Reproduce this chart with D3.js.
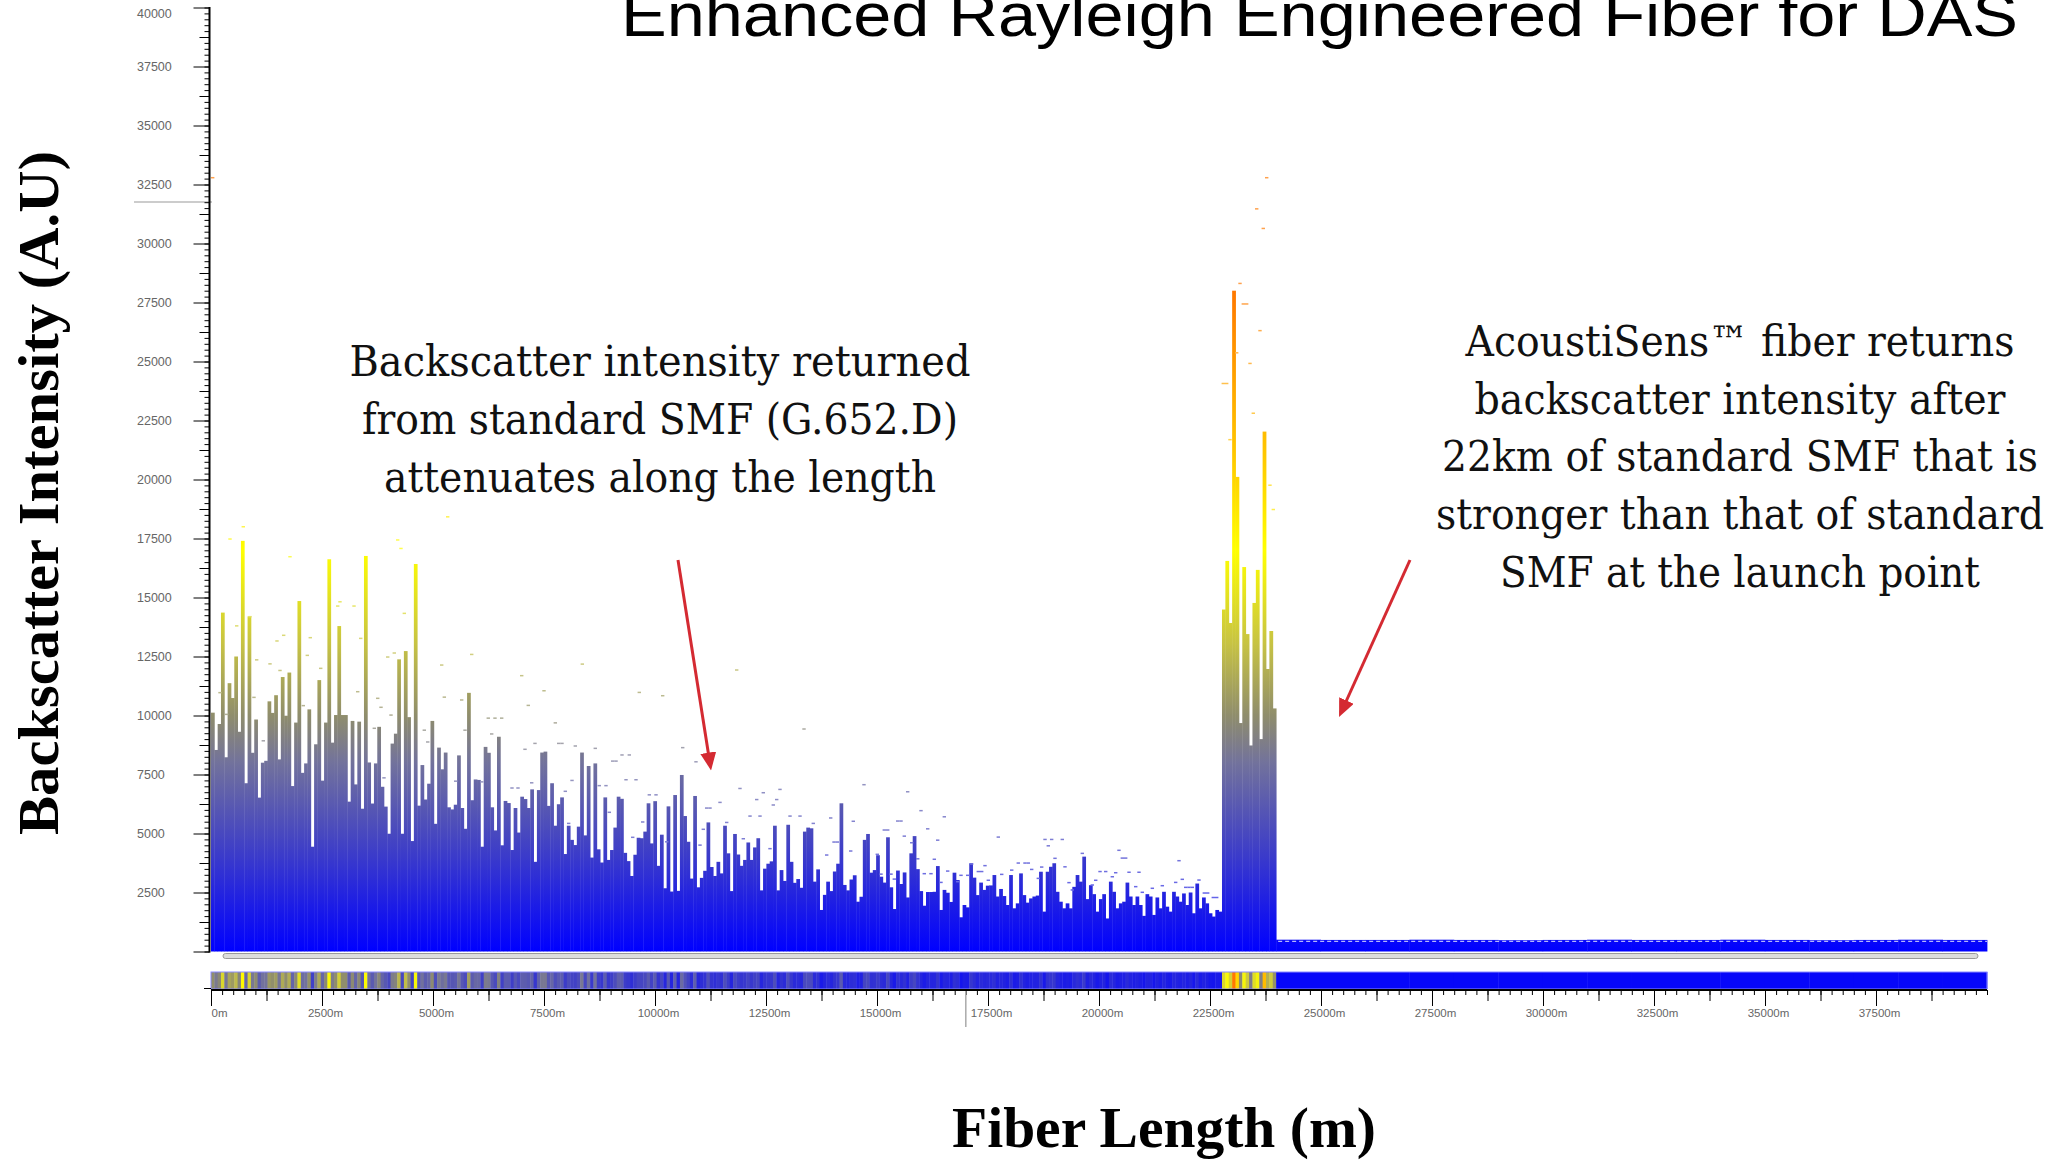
<!DOCTYPE html>
<html>
<head>
<meta charset="utf-8">
<script src="https://cdn.jsdelivr.net/npm/d3@7"></script>
<style>
body { margin: 0; background: #fff; overflow: hidden; }
svg { display: block; }
.tick text { font-family: "Liberation Sans", Arial, sans-serif; fill: #666; }
.note { font-family: "DejaVu Serif", "Liberation Serif", serif; font-size: 42px; fill: #111; }
</style>
</head>
<body>
<script>
var W = 2053, H = 1161;

// fibre sections in metres: standard SMF, AcoustiSens, end of trace
var sections = [0, 22770, 23990, 40000];

// peak backscatter per ~75 m bin along the standard SMF
var smfPeak = [
  10120, 8540, 9640, 14360, 8230, 11370, 10740, 12500, 9310, 17400,
  7130, 14200, 8420, 9830, 6520, 8000, 8080, 10600, 10110, 10860,
  8140, 11630, 9990, 11820, 7010, 9700, 14850, 7570, 7970, 10260,
  4440, 8780, 11500, 7240, 9700, 16620, 8850, 10020, 13790, 10020,
  10020, 6350, 9770, 7080, 9740, 6050, 16760, 8010, 6270, 7970,
  9520, 6980, 6140, 4990, 8810, 9230, 12380, 4990, 12730, 9930,
  4680, 16420, 6180, 7900, 6440, 7110, 9770, 5410, 8640, 7720,
  8430, 6110, 6020, 6220, 8310, 6080, 5200, 10960, 6410, 7290,
  7270, 4440, 8670, 8420, 6110, 5130, 9100, 4500, 6380, 6290,
  4300, 6080, 5040, 6560, 6460, 6080, 6870, 3800, 6840, 8430,
  8470, 6170, 7130, 5330, 6240, 6530, 4130, 5330, 4730, 4510,
  5290, 8430, 4920, 7860, 3980, 7970, 4330, 3770, 6530, 3880,
  4300, 5250, 6560, 6470, 4180, 3830, 3200, 4100, 4820, 4800,
  5080, 6280, 4580, 6370, 3630, 4950, 2680, 6150, 2540, 6630,
  2570, 7480, 5740, 4650, 3090, 6590, 2720, 3120, 3420, 5470,
  3580, 3200, 3800, 3310, 5330, 4160, 2560, 4980, 4110, 3630,
  3880, 4620, 3880, 4410, 4800, 2590, 3510, 3720, 3820, 5330,
  2590, 3450, 2990, 5370, 3800, 2910, 3070, 2700, 5080, 5250,
  5220, 2960, 3480, 1760, 2400, 2960, 2560, 3390, 3720, 6280,
  2820, 2590, 3050, 3230, 2110, 2320, 4730, 4980, 3340, 3450,
  4080,
  3170, 2920, 4840, 2720, 1800, 3430, 2860, 3350, 2290, 4160,
  4890, 3490, 2560, 1940, 2520, 2520, 2530, 3620, 1760, 2610,
  2490, 2100, 3340, 3030, 1450, 1970, 1870, 3740, 3130, 2390,
  2920, 2610, 2790, 2800, 3240, 2330, 2650, 2350, 1970, 3240,
  1830, 2040, 3310, 2390, 2070, 2250, 2330, 2370, 3380, 1690,
  3380, 3590, 3740, 2530, 2110, 1830, 2040, 1830, 2740, 3240,
  2960, 4020, 2220, 2810, 2430, 1690, 2220, 2430, 1400, 2960,
  2530, 1830, 2040, 2110, 2920, 2330, 1970, 2330, 1970, 1510,
  2430, 2330, 1550, 2290, 1830, 2530, 1900, 1690, 2530, 2330,
  2110, 2460, 1970, 2500, 1620, 2880, 1830, 2290, 2040, 1620,
  1480, 1760, 1690
];

// peak backscatter in the AcoustiSens section
var ersPeak = [14490, 16550, 13920, 28000, 20110, 9680, 16290, 13450,
  8730, 14770, 16170, 9000, 22030, 11970, 13580, 10300];

// level after the fibre end (1 km steps)
var tailLevel = [500, 490, 490, 500, 490, 480, 490, 500, 490, 490, 500, 490, 480, 490, 500, 490];

// max-hold markers: position (m) and value
var markM = [38, 727, 428, 1779, 5331, 4205, 4279, 2905, 2854, 3221, 4354, 579, 878, 2236, 3372,
  1637, 1486, 2169, 1029, 1329, 1554, 2471, 3980, 4128, 5872, 5196, 6998, 7500, 203, 968,
  2079, 3304, 3755, 3829, 4054, 5255, 5646, 7146, 6245, 6396, 6547, 354, 4804, 4881, 5721,
  6322, 3678, 7297, 7072, 6779, 6914, 7223, 5511, 6097, 3896, 1178,
  8363, 9646, 10173, 11840, 7755, 13356, 7905, 7831, 8205, 8655, 9257, 9421, 9047, 9122,
  10624, 10923, 8131, 9347, 9572, 7980, 9872, 10023, 11914, 12439, 12815, 12291, 12741,
  12664, 11464, 11164, 11239, 14707, 12140, 12365, 13041, 13266, 13957, 14466, 13565,
  8056, 9723, 11615, 8971, 8745, 8896, 11088, 14032, 14106, 11989, 15007, 14408, 12590,
  13867, 9498, 10264, 11014,
  15691, 15991, 16516, 15466, 15541, 15164, 15241, 16142, 15615, 16367, 17732, 18784,
  18934, 19173, 18858, 20450, 19624, 20525, 20601, 16291, 19009, 21802, 18182, 18333,
  18408, 17133, 17432, 18709, 19234, 18484, 18034, 20023, 20151, 16592, 17282, 17358,
  20676, 20901, 20376, 16065, 16216, 16892, 17043, 17809, 21876, 22252, 19926, 20300,
  15390, 16441, 16818, 17507, 18633, 21727, 19849, 19324, 21953, 22027, 22101, 20827,
  21426, 21201, 22372, 22448, 20975, 19399, 15917, 15782, 15090, 15315, 22574, 22651,
  23777, 23552, 23700, 23176, 23250, 23326, 23626, 23101, 23401, 22799, 22876, 23475,
  22950, 23851, 23926];
var markV = [32790, 18000, 17480, 16730, 18420, 17440, 17080, 14820, 14640, 14640, 14330, 13800, 14190, 13300, 13270,
  13400, 13160, 12550, 12360, 12190, 11910, 12000, 12480, 12650, 12590, 12140, 11690, 11050, 10970, 10770,
  10420, 11010, 10730, 10350, 10020, 10780, 10660, 10430, 9890, 9890, 9890, 10050, 9380, 8880, 9380,
  9220, 9460, 8820, 8570, 6930, 6930, 7150, 7220, 7190, 7360, 8930,
  12180, 10980, 10840, 11930, 9690, 9430, 8820, 8820, 8710, 8610, 8330, 8330, 8070, 8070,
  8640, 8040, 7250, 7280, 7280, 6790, 6640, 6640, 6910, 6730, 6870, 6440, 6440,
  6210, 6320, 6080, 6080, 7070, 5740, 5740, 5740, 5740, 5660, 5520, 5430,
  5430, 5490, 5470, 5900, 7030, 7030, 5180, 4640, 4640, 4780, 4120, 4260, 4360,
  4090, 4840, 4650, 4510,
  6770, 5970, 5710, 5530, 5530, 5150, 5150, 5200, 4890, 4720, 4850, 4750,
  4750, 4750, 4480, 4290, 4160, 3960, 3960, 3910, 3950, 3850, 3750, 3750,
  3750, 3710, 3640, 3580, 3590, 3480, 3450, 3390, 3390, 3410, 3390, 3390,
  3360, 3360, 3340, 3300, 3300, 3230, 3230, 3270, 3060, 3030, 3020, 3170,
  3070, 2930, 2960, 3020, 3100, 2930, 2820, 2920, 2720, 2720, 2720, 2750,
  2790, 2680, 2480, 2480, 2510, 2610, 3930, 4610, 3280, 3280, 2290, 2290,
  32790, 31470, 30640, 28310, 27440, 27440, 26310, 25370, 24920, 24070, 24070, 22810,
  21690, 19760, 18730];

var yTicks = [2500, 5000, 7500, 10000, 12500, 15000, 17500, 20000, 22500, 25000,
  27500, 30000, 32500, 35000, 37500, 40000];
var xTicks = [0, 2500, 5000, 7500, 10000, 12500, 15000, 17500, 20000, 22500,
  25000, 27500, 30000, 32500, 35000, 37500];

var noteLeft = ["Backscatter intensity returned", "from standard SMF (G.652.D)", "attenuates along the length"];
var noteRight = ["AcoustiSens\u2122 fiber returns", "backscatter intensity after",
  "22km of standard SMF that is", "stronger than that of standard", "SMF at the launch point"];
var leftW = [621, 596, 552], rightW = [549, 531, 596, 608, 480];

// colour ramp of the trace (value -> colour)
var rampV = [0, 4000, 8000, 10000, 13000, 17000, 21000, 28000];
var rampC = ["#0000ff", "#3a3acb", "#72729c", "#8f8d6c", "#c6c244", "#ffff00", "#ffc800", "#ff7800"];

var x = d3.scaleLinear().domain([0, 40000]).range([211, 1987]);
var y = d3.scaleLinear().domain([0, 40000]).range([951.5, 7.5]);
var col = d3.scaleLinear().domain(rampV).range(rampC).clamp(true);

var svg = d3.select("body").append("svg").attr("width", W).attr("height", H);
var defs = svg.append("defs");

var grad = defs.append("linearGradient").attr("id", "barGrad")
  .attr("gradientUnits", "userSpaceOnUse")
  .attr("x1", 0).attr("x2", 0).attr("y1", y(0)).attr("y2", y(28000));
grad.selectAll("stop").data(rampV).enter().append("stop")
  .attr("offset", function(d) { return d / 28000; })
  .attr("stop-color", function(d, i) { return rampC[i]; });

defs.append("marker").attr("id", "head")
  .attr("viewBox", "0 -8 18 16").attr("refX", 6).attr("refY", 0)
  .attr("markerWidth", 18).attr("markerHeight", 16)
  .attr("markerUnits", "userSpaceOnUse").attr("orient", "auto")
  .append("path").attr("d", "M0,-8L18,0L0,8Z").attr("fill", "#d42a32");

// bars
var xMain = d3.scaleBand().domain(d3.range(smfPeak.length)).range([x(sections[0]), x(sections[1])]);
var xErs = d3.scaleBand().domain(d3.range(ersPeak.length)).range([x(sections[1]), x(sections[2])]);
var xTail = d3.scaleBand().domain(d3.range(tailLevel.length)).range([x(sections[2]), x(sections[3])]);

function drawBars(data, sc) {
  svg.append("g").selectAll("rect").data(data).enter().append("rect")
    .attr("x", function(d, i) { return sc(i); })
    .attr("width", sc.bandwidth() + 0.4)
    .attr("y", function(d) { return y(d); })
    .attr("height", function(d) { return y(0) - y(d); })
    .attr("fill", "url(#barGrad)");
}
drawBars(smfPeak, xMain);
drawBars(ersPeak, xErs);
drawBars(tailLevel, xTail);

// speckle on the tail top
svg.append("line")
  .attr("x1", x(sections[2]) + 2).attr("x2", x(sections[3]))
  .attr("y1", y(430)).attr("y2", y(430))
  .attr("stroke", "#fff").attr("stroke-width", 1.2).attr("stroke-dasharray", "4,3").attr("opacity", 0.7);

// max-hold markers
svg.append("g").selectAll("rect").data(markM).enter().append("rect")
  .attr("x", function(d) { return x(d) - 1.7; })
  .attr("y", function(d, i) { return y(markV[i]) - 0.7; })
  .attr("width", 3.4).attr("height", 1.5)
  .attr("fill", function(d, i) { return d3.interpolateRgb(col(markV[i]), "#fff")(0.3); });

// grey level line next to the axis
svg.append("line").attr("x1", 134).attr("x2", 212)
  .attr("y1", y(31760)).attr("y2", y(31760))
  .attr("stroke", "#bbb").attr("stroke-width", 1.5);

// y axis
function axisG(axis) {
  var g = svg.append("g").attr("transform", "translate(209.5,0)").call(axis);
  g.select(".domain").remove();
  return g;
}
axisG(d3.axisLeft(y).tickValues(d3.range(0, 40001, 250)).tickSize(5).tickFormat(""));
axisG(d3.axisLeft(y).tickValues(d3.range(1250, 40000, 2500)).tickSize(10).tickFormat(""));
var yG = axisG(d3.axisLeft(y).tickValues([0].concat(yTicks)).tickSize(16)
  .tickFormat(function(d) { return d ? d : ""; }));
yG.selectAll(".tick text")
  .attr("text-anchor", "start").attr("x", -72.5)
  .attr("y", function(d) { return Math.max(0, 13 - y(d)); })
  .style("font-size", "12.5px");
svg.append("line").attr("x1", 209.5).attr("x2", 209.5).attr("y1", 7).attr("y2", 952.5)
  .attr("stroke", "#000").attr("stroke-width", 2);

// scroll bar
svg.append("rect").attr("x", 223).attr("y", 953.5).attr("width", 1978 - 223).attr("height", 5)
  .attr("rx", 2.5).attr("fill", "#dcdcdc").attr("stroke", "#9a9a9a").attr("stroke-width", 1);

// overview strip
var stripY = 972, stripH = 17;
function drawStrip(data, sc) {
  svg.append("g").selectAll("rect").data(data).enter().append("rect")
    .attr("x", function(d, i) { return sc(i); })
    .attr("width", sc.bandwidth() + 0.4)
    .attr("y", stripY).attr("height", stripH)
    .attr("fill", function(d) { return col(d); });
}
drawStrip(smfPeak, xMain);
drawStrip(ersPeak, xErs);
drawStrip(tailLevel, xTail);
svg.append("rect").attr("x", x(0)).attr("y", stripY).attr("width", x(40000) - x(0)).attr("height", stripH)
  .attr("fill", "none").attr("stroke", "#8a8aff").attr("stroke-width", 1);
svg.append("line").attr("x1", 204).attr("x2", 211).attr("y1", 988.5).attr("y2", 988.5).attr("stroke", "#000");

// x axis
function xAxisG(axis) {
  var g = svg.append("g").attr("transform", "translate(0,990)").call(axis);
  g.select(".domain").remove();
  return g;
}
xAxisG(d3.axisBottom(x).tickValues(d3.range(0, 40001, 250)).tickSize(5).tickFormat(""));
xAxisG(d3.axisBottom(x).tickValues(d3.range(1250, 40000, 2500)).tickSize(11).tickFormat(""));
var xG = xAxisG(d3.axisBottom(x).tickValues(xTicks).tickSize(16).tickFormat(function(d) { return d + "m"; }));
xG.selectAll(".tick text")
  .style("font-size", "11.5px")
  .attr("text-anchor", function(d) { return d ? "middle" : "start"; })
  .attr("x", function(d) { return d ? 3 : 0; });
svg.append("line").attr("x1", x(0)).attr("x2", x(40000)).attr("y1", 990).attr("y2", 990)
  .attr("stroke", "#000").attr("stroke-width", 2.2);

// cursor mark
svg.append("line").attr("x1", x(17000)).attr("x2", x(17000)).attr("y1", 991).attr("y2", 1027)
  .attr("stroke", "#aaa").attr("stroke-width", 1.5);

// titles
svg.append("text").attr("x", 621).attr("y", 36)
  .attr("textLength", 1397).attr("lengthAdjust", "spacingAndGlyphs")
  .style("font-family", "'Liberation Sans', Arial, sans-serif").style("font-size", "62px")
  .text("Enhanced Rayleigh Engineered Fiber for DAS");

svg.append("text").attr("transform", "translate(58,493) rotate(-90)")
  .attr("text-anchor", "middle").attr("textLength", 684).attr("lengthAdjust", "spacingAndGlyphs")
  .style("font-family", "'Liberation Serif', 'Times New Roman', serif").style("font-weight", "bold")
  .style("font-size", "58px")
  .text("Backscatter Intensity (A.U)");

svg.append("text").attr("x", 1164).attr("y", 1147)
  .attr("text-anchor", "middle").attr("textLength", 424).attr("lengthAdjust", "spacingAndGlyphs")
  .style("font-family", "'Liberation Serif', 'Times New Roman', serif").style("font-weight", "bold")
  .style("font-size", "58px")
  .text("Fiber Length (m)");

// annotations
svg.append("text").attr("class", "note").attr("text-anchor", "middle")
  .selectAll("tspan").data(noteLeft).enter().append("tspan")
  .attr("x", 660).attr("y", function(d, i) { return 376 + i * 58; })
  .attr("textLength", function(d, i) { return leftW[i]; })
  .attr("lengthAdjust", "spacingAndGlyphs")
  .text(function(d) { return d; });
svg.append("text").attr("class", "note").attr("text-anchor", "middle")
  .selectAll("tspan").data(noteRight).enter().append("tspan")
  .attr("x", 1740).attr("y", function(d, i) { return 356 + i * 57.7; })
  .attr("textLength", function(d, i) { return rightW[i]; })
  .attr("lengthAdjust", "spacingAndGlyphs")
  .text(function(d) { return d; });

// arrows
svg.append("line").attr("x1", 678).attr("y1", 560).attr("x2", 709.2).attr("y2", 758.6)
  .attr("stroke", "#d42a32").attr("stroke-width", 3).attr("marker-end", "url(#head)");
svg.append("line").attr("x1", 1410).attr("y1", 560).attr("x2", 1344).attr("y2", 706)
  .attr("stroke", "#d42a32").attr("stroke-width", 3).attr("marker-end", "url(#head)");
</script>
</body>
</html>
